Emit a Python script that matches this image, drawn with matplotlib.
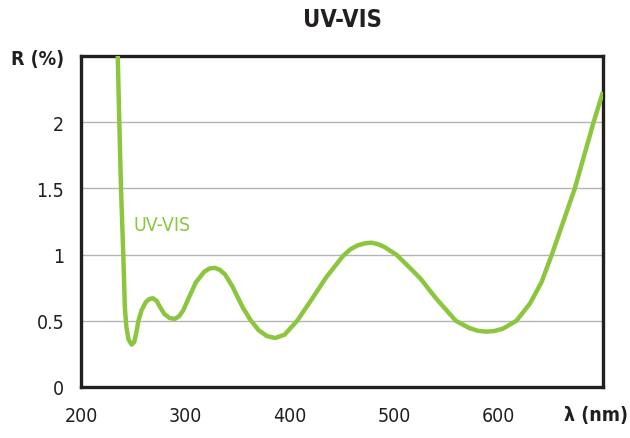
import matplotlib
matplotlib.use("Agg")
import matplotlib.pyplot as plt

wavelength = [234, 235.2, 236.7, 238.3, 240.5, 242, 243.5, 245.5, 248.5, 251, 253, 255,
              258, 262, 265.5, 269, 272.5, 276, 280, 285, 290, 294, 298, 303, 310, 318,
              323, 328, 333, 338, 345, 355, 362, 370, 378, 386, 395, 407, 420, 435, 451,
              458, 465, 472, 478, 484, 490, 502, 515, 525, 540, 559, 572, 580, 588, 596,
              604, 617, 630, 641, 651, 662, 673, 682, 691, 700]
reflectance = [2.75, 2.5, 2.0, 1.5, 1.0, 0.6, 0.45, 0.36, 0.32, 0.34, 0.41, 0.5,
               0.58, 0.64, 0.665, 0.67, 0.65, 0.6, 0.55, 0.52, 0.515, 0.535, 0.58, 0.67,
               0.79, 0.87, 0.895, 0.90, 0.885, 0.85, 0.76, 0.6, 0.51, 0.43, 0.385, 0.37,
               0.395, 0.50, 0.65, 0.83, 0.99, 1.04, 1.07, 1.085, 1.09, 1.08, 1.06, 1.0,
               0.90, 0.82, 0.67, 0.50, 0.445, 0.425, 0.418, 0.423, 0.44, 0.50, 0.63, 0.79,
               1.0, 1.25, 1.5, 1.75, 2.0, 2.23]
x_ticks = [200, 300, 400, 500, 600]
x_labels = ["200", "300", "400", "500", "600"]
x_unit = "λ (nm)"
y_ticks = [0, 0.5, 1, 1.5, 2, 2.5]
y_labels = ["0", "0.5", "1", "1.5", "2", "R (%)"]

FONT = ['DejaVu Sans']
STRETCH = 'condensed'
GREEN = '#8cc63f'
DARK = '#231f20'

fig = plt.figure(figsize=(6.3, 4.39), dpi=100)
ax = fig.add_axes([81/630, 51/439, 522/630, 331/439])
ax.plot(wavelength, reflectance, color=GREEN, lw=3.2, solid_joinstyle='round',
        solid_capstyle='butt', zorder=3)
ax.set_xlim(200, 700)
ax.set_ylim(0, 2.5)
ax.set_xticks(x_ticks)
ax.set_xticklabels(x_labels, family=FONT, fontstretch=STRETCH, fontsize=14, color=DARK)
ax.set_yticks(y_ticks)
ax.set_yticklabels(y_labels, family=FONT, fontstretch=STRETCH, fontsize=14, color=DARK)
ax.get_yticklabels()[-1].set_fontweight('bold')
ax.tick_params(length=0, pad=12)
ax.tick_params(axis='x', pad=14)
ax.grid(axis='y', color='#b4b4b4', lw=1.0)
ax.grid(axis='x', visible=False)
for s in ax.spines.values():
    s.set_color(DARK)
    s.set_linewidth(2.4)
fig.text(596/630, 1 - 416/439, x_unit, family=FONT, fontstretch=STRETCH, fontsize=14,
         fontweight='bold', color=DARK, ha='center', va='center')
ax.text(250, 1.23, "UV-VIS", color=GREEN, family=FONT, fontstretch=STRETCH, fontsize=14,
        va='center', ha='left')
fig.text(342/630, 1 - 20/439, "UV-VIS", family=FONT, fontstretch=STRETCH, fontsize=17,
         fontweight='bold', color=DARK, ha='center', va='center')
fig.savefig("out.png", dpi=100, facecolor='white')
